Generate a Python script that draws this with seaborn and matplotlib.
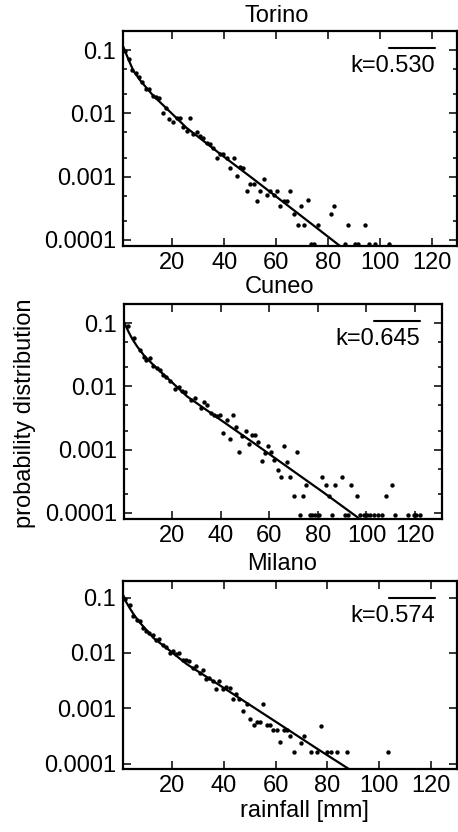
import matplotlib
matplotlib.use("Agg")
import matplotlib.pyplot as plt
from matplotlib.ticker import FixedLocator, FixedFormatter, LogLocator, NullFormatter, NullLocator
from matplotlib.lines import Line2D
import seaborn as sns
import pandas as pd

# ---------------- data ----------------
panel_titles = ["Torino", "Cuneo", "Milano"]
k_labels = ["k=0.530", "k=0.645", "k=0.574"]

torino_x = [1.7, 3.2, 4.6, 5.9, 7.2, 8.5, 9.8, 11.1, 12.4, 13.7, 15.0, 16.4, 17.7, 18.9, 20.4,
            21.7, 22.8, 24.2, 25.5, 26.8, 28.0, 29.4, 30.7, 32.0, 33.3, 34.6, 35.8, 37.1, 38.4,
            39.7, 41.0, 42.3, 43.6, 44.9, 46.2, 47.4, 48.7, 50.0, 51.3, 52.6, 53.9, 55.2, 56.5,
            57.8, 59.0, 60.3, 61.6, 62.9, 64.2, 65.5, 67.0, 68.3, 69.6, 70.9, 72.2, 73.5, 74.5,
            76.1, 81.2, 82.5, 86.4, 87.7, 90.3, 91.5, 94.4, 95.7, 98.2, 103.4]
torino_p = [0.0955, 0.0724, 0.0479, 0.0427, 0.0372, 0.0316, 0.0245, 0.0240, 0.0186, 0.0178,
            0.0174, 0.0100, 0.0123, 0.00813, 0.00741, 0.00851, 0.00851, 0.00617, 0.00525,
            0.00832, 0.00468, 0.00513, 0.00437, 0.00407, 0.00339, 0.00331, 0.00282, 0.00195,
            0.00224, 0.00224, 0.00200, 0.00135, 0.00195, 0.00102, 0.00141, 0.00138, 0.000589,
            0.000776, 0.000776, 0.000417, 0.000589, 0.000933, 0.000513, 0.000589, 0.000513,
            0.000589, 0.000339, 0.000417, 0.000417, 0.000589, 0.000257, 0.000170, 0.000339,
            0.000170, 0.000427, 0.000085, 0.000085, 0.000170, 0.000257, 0.000339, 0.000085,
            0.000170, 0.000085, 0.000085, 0.000170, 0.000085, 0.000085, 0.000085]
torino_fit_x = [1.0, 2.0, 3.0, 5.0, 8.0, 12.6, 18.0, 25.5, 38.4, 51.3, 65.5, 75.0, 84.8]
torino_fit_p = [0.115, 0.0912, 0.0724, 0.0468, 0.0316, 0.0191, 0.0117, 0.00589, 0.00229,
                0.000912, 0.000324, 0.000162, 0.000079]

cuneo_x = [1.6, 4.1, 6.6, 8.2, 9.3, 10.7, 12.1, 13.5, 14.9, 16.2, 17.6, 19.0, 21.3, 22.7, 24.1,
           25.1, 27.8, 29.2, 31.7, 33.0, 34.4, 35.8, 37.2, 38.6, 39.7, 41.0, 42.4, 43.8, 45.2,
           46.1, 47.5, 48.9, 50.3, 51.6, 53.0, 54.1, 55.5, 56.9, 58.2, 59.3, 60.7, 62.0, 63.4,
           64.8, 65.9, 67.2, 68.5, 70.0, 71.3, 72.7, 73.8, 75.2, 76.6, 77.7, 79.0, 80.4, 81.8,
           83.2, 84.5, 85.6, 87.0, 89.8, 91.2, 92.3, 93.6, 96.1, 97.5, 98.9, 100.2, 101.6, 103.0,
           104.9, 106.3, 108.0, 110.4, 111.8, 117.1, 119.5, 120.6, 122.0]
cuneo_p = [0.0891, 0.0575, 0.0380, 0.0295, 0.0257, 0.0282, 0.0209, 0.0195, 0.0182, 0.0151,
           0.0141, 0.0123, 0.00891, 0.00977, 0.00832, 0.00813, 0.00617, 0.00661, 0.00457,
           0.00562, 0.00513, 0.00380, 0.00347, 0.00339, 0.00355, 0.00186, 0.00295, 0.00148,
           0.00355, 0.00229, 0.000912, 0.00162, 0.00195, 0.00123, 0.00170, 0.00170, 0.00132,
           0.000661, 0.000871, 0.00112, 0.000912, 0.000676, 0.000468, 0.000372, 0.00112,
           0.000646, 0.000372, 0.000182, 0.000933, 0.000091, 0.000182, 0.000280, 0.000091,
           0.000091, 0.000091, 0.000091, 0.000372, 0.000280, 0.000182, 0.000091, 0.000280,
           0.000372, 0.000091, 0.000091, 0.000280, 0.000182, 0.000091, 0.000091, 0.000091,
           0.000091, 0.000091, 0.000091, 0.000091, 0.000182, 0.000280, 0.000091, 0.000091,
           0.000091, 0.000091, 0.000091]
cuneo_fit_x = [0.3, 1.0, 2.0, 3.5, 5.5, 8.5, 12.4, 18.0, 26.1, 39.9, 53.7, 68.4, 82.0, 96.7]
cuneo_fit_p = [0.100, 0.0871, 0.0724, 0.0562, 0.0427, 0.0302, 0.0214, 0.0135, 0.00692, 0.00295,
               0.00126, 0.000501, 0.000214, 0.000083]

milano_x = [1.7, 3.4, 4.9, 6.2, 7.3, 8.5, 9.8, 11.1, 12.4, 13.7, 15.0, 16.3, 17.6, 18.9, 20.1,
            21.4, 22.7, 24.0, 25.3, 26.6, 27.9, 29.2, 30.5, 31.8, 33.0, 34.3, 35.6, 36.9, 38.2,
            39.5, 40.8, 42.1, 43.4, 44.6, 45.9, 47.5, 48.8, 50.1, 51.4, 52.6, 53.9, 55.2, 56.5,
            57.8, 59.1, 60.4, 61.7, 63.0, 64.3, 65.6, 67.1, 69.7, 71.0, 73.5, 76.1, 77.4, 80.0,
            81.3, 83.8, 87.7, 103.4]
milano_p = [0.0955, 0.0724, 0.0457, 0.0398, 0.0380, 0.0282, 0.0245, 0.0234, 0.0214, 0.0174,
            0.0178, 0.0141, 0.0126, 0.0102, 0.0107, 0.00977, 0.0102, 0.00759, 0.00759, 0.00708,
            0.00537, 0.00575, 0.00437, 0.00501, 0.00339, 0.00355, 0.00309, 0.00219, 0.00316,
            0.00219, 0.00245, 0.00234, 0.00145, 0.00178, 0.00145, 0.000891, 0.00120, 0.000646,
            0.000490, 0.000562, 0.000562, 0.00120, 0.000490, 0.000490, 0.000398, 0.000398,
            0.000245, 0.000407, 0.000407, 0.000316, 0.000162, 0.000240, 0.000316, 0.000162,
            0.000162, 0.000479, 0.000162, 0.000162, 0.000162, 0.000162, 0.000162]
milano_fit_x = [1.0, 2.0, 3.5, 5.0, 7.0, 9.5, 12.7, 18.0, 25.5, 38.5, 51.3, 65.5, 76.0, 88.1]
milano_fit_p = [0.110, 0.0851, 0.0646, 0.0501, 0.0372, 0.0275, 0.0186, 0.0120, 0.00631, 0.00257,
                0.00105, 0.000389, 0.000186, 0.000081]

xtick_vals = [20, 40, 60, 80, 100, 120]
ytick_vals = [0.0001, 0.001, 0.01, 0.1]
ytick_labels = ["0.0001", "0.001", "0.01", "0.1"]
x_label = "rainfall [mm]"
y_label = "probability distribution"

# ---------------- style ----------------
sns.set_style("ticks")
plt.rcParams["font.family"] = ["Liberation Sans", "DejaVu Sans"]
plt.rcParams["text.color"] = "black"
plt.rcParams["axes.labelcolor"] = "black"
FS = 17

W, H = 458, 832
fig = plt.figure(figsize=(W / 100, H / 100), dpi=100)

# (left, top, right, bottom) in pixels, xlim
layout = [
    ((123.3, 31, 456.7, 246), (1.1, 129.6)),
    ((124.0, 304, 441.7, 519), (0.1, 131.0)),
    ((123.3, 581, 456.7, 769), (1.0, 130.0)),
]
series = [
    (torino_x, torino_p, torino_fit_x, torino_fit_p),
    (cuneo_x, cuneo_p, cuneo_fit_x, cuneo_fit_p),
    (milano_x, milano_p, milano_fit_x, milano_fit_p),
]
title_pos = [(277, 16), (280, 287), (282, 564)]

for i, ((l, t, r, b), xlim) in enumerate(layout):
    ax = fig.add_axes([l / W, 1 - b / H, (r - l) / W, (b - t) / H])
    px, pp, fx, fp = series[i]
    pts = pd.DataFrame({"x": px, "p": pp})
    fit = pd.DataFrame({"x": fx, "p": fp})
    sns.lineplot(data=fit, x="x", y="p", ax=ax, color="black", linewidth=1.6, sort=True)
    sns.scatterplot(data=pts, x="x", y="p", ax=ax, color="black", s=10, linewidth=0, zorder=3)
    ax.set_yscale("log")
    ax.set_xlim(*xlim)
    ax.set_ylim(8e-5, 0.2)
    ax.xaxis.set_major_locator(FixedLocator(xtick_vals))
    ax.xaxis.set_minor_locator(NullLocator())
    ax.yaxis.set_major_locator(FixedLocator(ytick_vals))
    ax.yaxis.set_major_formatter(FixedFormatter(ytick_labels))
    ax.yaxis.set_minor_locator(LogLocator(base=10, subs=(2.0, 5.0)))
    ax.yaxis.set_minor_formatter(NullFormatter())
    ax.tick_params(which="both", direction="in", top=True, right=True, colors="black",
                   labelsize=FS)
    ax.tick_params(which="major", length=5.5, width=1.1)
    ax.tick_params(which="minor", length=3, width=1.1)
    ax.tick_params(axis="y", which="major", pad=5)
    ax.tick_params(axis="x", which="major", pad=4)
    for sp in ax.spines.values():
        sp.set_linewidth(1.6)
        sp.set_color("black")
    ax.set_xlabel("")
    ax.set_ylabel("")
    # key: sample line and label
    fig.add_artist(Line2D([(r - 68) / W, (r - 22) / W], [1 - (t + 17) / H] * 2,
                          transform=fig.transFigure, color="black", linewidth=1.5))
    fig.text((r - 22) / W, 1 - (t + 35) / H, k_labels[i], ha="right", va="center",
             fontsize=FS, color="black")
    tx, ty = title_pos[i]
    fig.text(tx / W, 1 - ty / H, panel_titles[i], ha="center", va="center", fontsize=FS,
             color="black")

fig.text(25 / W, 1 - 413 / H, y_label, rotation=90, ha="center", va="center", fontsize=17,
         color="black")
fig.text(304 / W, 1 - 811 / H, x_label, ha="center", va="center", fontsize=17, color="black")

fig.savefig("out.png", dpi=100)
